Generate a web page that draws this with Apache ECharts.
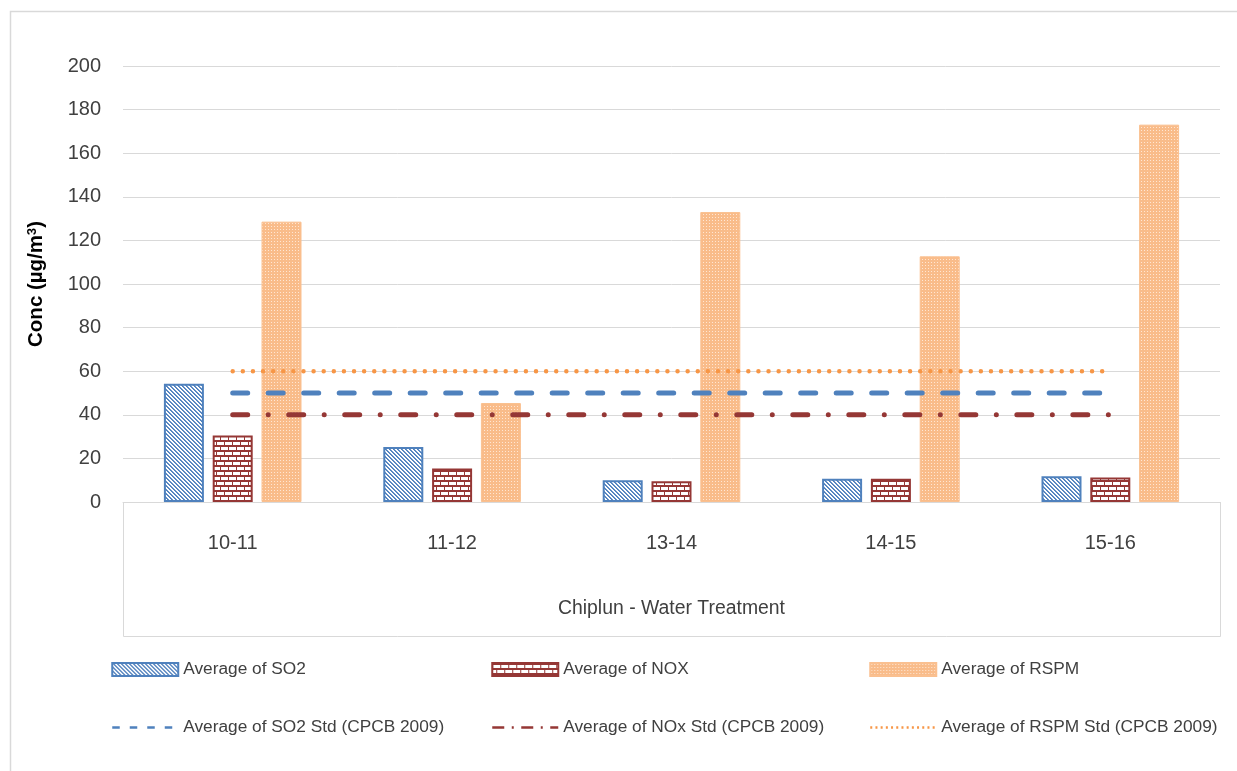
<!DOCTYPE html>
<html>
<head>
<meta charset="utf-8">
<script src="https://cdn.jsdelivr.net/npm/echarts@6/dist/echarts.min.js"></script>
<style>
html,body{margin:0;padding:0;background:#fff;}
#chart{width:1237px;height:771px;}
</style>
</head>
<body>
<div id="chart"></div>
<script>
// ---------- data ----------
const categories = ['10-11', '11-12', '13-14', '14-15', '15-16'];
const so2Values  = [54.3, 25.2, 10.0, 10.7, 11.8];
const noxValues  = [30.5, 15.4, 9.5, 10.7, 11.2];
const rspmValues = [128.6, 45.4, 133.0, 112.7, 173.1];
const so2Std  = [50, 50, 50, 50, 50];
const noxStd  = [40, 40, 40, 40, 40];
const rspmStd = [60, 60, 60, 60, 60];
const yMin = 0, yMax = 200, yInterval = 20;
const seriesNames = [
  'Average of SO2', 'Average of NOX', 'Average of RSPM',
  'Average of SO2 Std (CPCB 2009)', 'Average of NOx Std (CPCB 2009)', 'Average of RSPM Std (CPCB 2009)'
];
const xAxisTitle = 'Chiplun - Water Treatment';

const FONT = '"Liberation Sans", Arial, sans-serif';
const fsAxis = 20, fsLegend = 17.3, fsName = 19.4, fsYName = 20.5;

// ---------- patterns ----------
function makeCanvas(w, h, draw) {
  const c = document.createElement('canvas'); c.width = w; c.height = h;
  const ctx = c.getContext('2d'); draw(ctx); return c;
}
const BLUE = '#4F81BD', RED = '#953735', ORANGE = '#F79646', PEACH = '#FAC090';
const hatch = makeCanvas(4, 4, ctx => {
  ctx.fillStyle = '#fff'; ctx.fillRect(0, 0, 4, 4);
  for (let y = 0; y < 4; y++) for (let x = 0; x < 4; x++) {
    const d = ((x - y) % 4 + 4) % 4;
    if (d === 0) { ctx.fillStyle = BLUE; ctx.fillRect(x, y, 1, 1); }
    else if (d === 1) { ctx.fillStyle = '#6790C6'; ctx.fillRect(x, y, 1, 1); }
  }
});
const brick = makeCanvas(16, 10, ctx => {
  ctx.fillStyle = RED; ctx.fillRect(0, 0, 16, 10);
  ctx.fillStyle = '#fff';
  ctx.fillRect(1, 2, 7, 3); ctx.fillRect(9, 2, 7, 3);
  ctx.fillRect(5, 7, 7, 3); ctx.fillRect(13, 7, 3, 3); ctx.fillRect(0, 7, 4, 3);
});
const dots = makeCanvas(3, 3, ctx => {
  ctx.fillStyle = '#F9BC8A'; ctx.fillRect(0, 0, 3, 3);
  ctx.fillStyle = '#FFE6D2'; ctx.fillRect(1, 1, 1, 1);
});

// ---------- layout ----------
const G = { left: 123, right: 17, top: 66, bottom: 269 };
const W = 1237, H = 771;
const plotRight = W - G.right, plotBottom = H - G.bottom;

const chart = echarts.init(document.getElementById('chart'), null, { renderer: 'canvas' });

const barCommon = { type: 'bar', barWidth: 40, barGap: '22%', z: 2 };
const lineCommon = { type: 'line', symbol: 'none', z: 5, silent: true };

const hidden = { color: 'rgba(0,0,0,0)', borderColor: 'rgba(0,0,0,0)', borderWidth: 0 };
function legendFor(left, names, lineLegend) {
  return {
    orient: 'vertical', left: left, top: 656, itemWidth: 66, itemHeight: 13, itemGap: 41,
    icon: 'rect', selectedMode: false,
    textStyle: { fontFamily: FONT, fontSize: fsLegend, color: '#404040' },
    data: [names[0], { name: names[1], icon: 'inherit', itemStyle: hidden, lineStyle: lineLegend }]
  };
}

const option = {
  animation: false,
  backgroundColor: '#fff',
  grid: G,
  xAxis: {
    type: 'category', data: categories,
    axisLine: { lineStyle: { color: '#D9D9D9', width: 1 } },
    axisTick: { show: false },
    axisLabel: { fontFamily: FONT, fontSize: fsAxis, color: '#404040', margin: 31 },
    name: xAxisTitle, nameLocation: 'middle', nameGap: 97,
    nameTextStyle: { fontFamily: FONT, fontSize: fsName, color: '#404040' }
  },
  yAxis: {
    type: 'value', min: yMin, max: yMax, interval: yInterval,
    axisLine: { show: false }, axisTick: { show: false },
    splitLine: { lineStyle: { color: '#D9D9D9', width: 1 } },
    axisLabel: { fontFamily: FONT, fontSize: fsAxis, color: '#404040', margin: 22 },
    name: 'Conc (µg/m{sup|3})', nameLocation: 'middle', nameGap: 76,
    nameTextStyle: {
      fontFamily: FONT, fontSize: fsYName, fontWeight: 'bold', color: '#000',
      rich: { sup: { fontFamily: FONT, fontSize: fsYName * 0.62, fontWeight: 'bold', color: '#000', verticalAlign: 'top', padding: [0, 0, 8, 0] } }
    }
  },
  legend: [
    legendFor(106, [seriesNames[0], seriesNames[3]], { color: BLUE, type: [7.5, 10], width: 2.5, cap: 'butt', opacity: 1 }),
    legendFor(486, [seriesNames[1], seriesNames[4]], { color: RED, type: [12, 7.5, 2, 7.5], width: 2.5, cap: 'butt', opacity: 1 }),
    legendFor(864, [seriesNames[2], seriesNames[5]], { color: ORANGE, type: [2, 3.2], width: 2.5, cap: 'butt', opacity: 1 })
  ],
  graphic: [
    { type: 'rect', silent: true, z: -10, shape: { x: 10.5, y: 11.5, width: 1240, height: 780 },
      style: { fill: 'none', stroke: '#D9D9D9', lineWidth: 1.5 } },
    { type: 'polyline', silent: true, z: -5,
      shape: { points: [[G.left + 0.5, plotBottom], [G.left + 0.5, 636.5], [plotRight + 0.5, 636.5], [plotRight + 0.5, plotBottom]] },
      style: { fill: 'none', stroke: '#D9D9D9', lineWidth: 1 } }
  ],
  series: [
    Object.assign({}, barCommon, { name: seriesNames[0], data: so2Values,
      itemStyle: { color: { image: hatch, repeat: 'repeat' }, borderColor: BLUE, borderWidth: 2 } }),
    Object.assign({}, barCommon, { name: seriesNames[1], data: noxValues,
      itemStyle: { color: { image: brick, repeat: 'repeat' }, borderColor: RED, borderWidth: 2 } }),
    Object.assign({}, barCommon, { name: seriesNames[2], data: rspmValues,
      itemStyle: { color: { image: dots, repeat: 'repeat' }, borderColor: PEACH, borderWidth: 1 } }),
    Object.assign({}, lineCommon, { name: seriesNames[3], data: so2Std, itemStyle: { color: BLUE },
      lineStyle: { color: BLUE, width: 5, type: [15, 20.5], cap: 'round' } }),
    Object.assign({}, lineCommon, { name: seriesNames[4], data: noxStd, itemStyle: { color: RED },
      lineStyle: { color: RED, width: 5, type: [15, 20.5, 0.01, 20.5], cap: 'round' } }),
    Object.assign({}, lineCommon, { name: seriesNames[5], data: rspmStd, itemStyle: { color: ORANGE },
      lineStyle: { color: ORANGE, width: 4.5, type: [0.01, 10.1], cap: 'round' } })
  ]
};
chart.setOption(option);
</script>
</body>
</html>
